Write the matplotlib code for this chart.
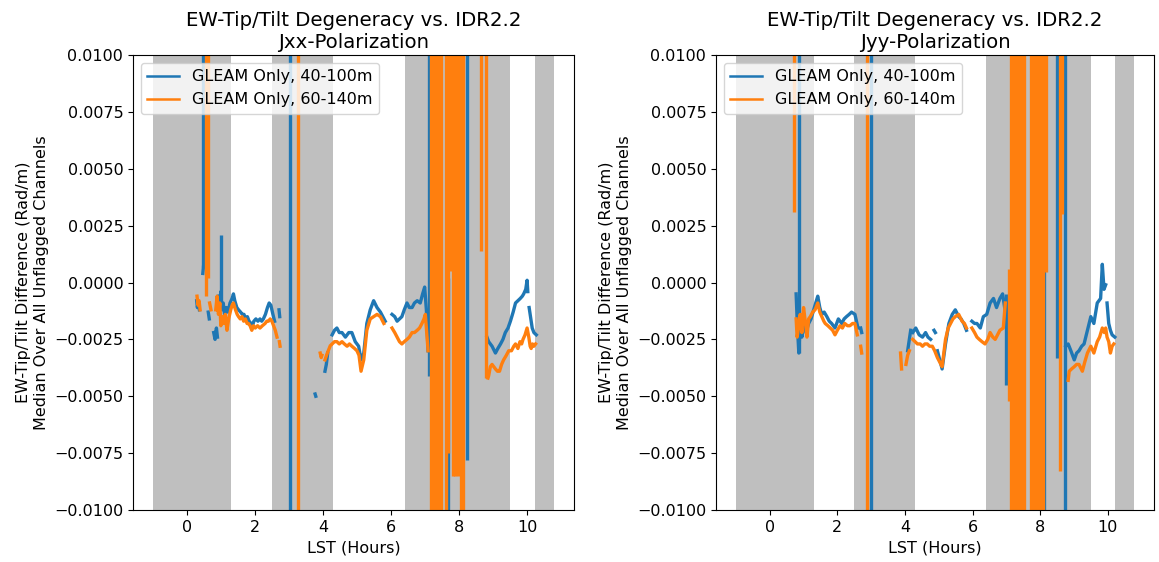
import numpy as np
import matplotlib
matplotlib.use("Agg")
import matplotlib.pyplot as plt

nan = np.nan

# LST windows that were shaded (hours)
shade_start = [-1.0, 2.5, 6.4, 10.22]
shade_stop = [1.3, 4.3, 9.5, 10.78]

labels = ["GLEAM Only, 40-100m", "GLEAM Only, 60-140m"]
pols = ["Jxx", "Jyy"]

# ---------------- Jxx, 40-100m (blue) ----------------
xx_a_lst = [0.28, 0.30, 0.33, 0.36, nan,
            0.46, 0.48, nan,
            0.62, 0.65, nan,
            0.78, 0.82, 0.86, 0.89, nan,
            0.92, 0.95, 0.99, 1.02, 1.06, 1.10, 1.15, 1.20, 1.26, 1.32, 1.36, 1.40,
            1.46, 1.51, 1.57, 1.62, 1.67, 1.72, 1.77, 1.82, 1.88, 1.92, 1.96, 2.02,
            2.08, 2.14, 2.19, 2.24, 2.30, 2.36, 2.41, 2.46, 2.52, 2.57, nan,
            2.70, 2.72, nan,
            3.76, 3.78, nan,
            4.05, 4.09, 4.13, nan,
            4.26, 4.33, 4.40, 4.47, 4.55, 4.65, 4.75, 4.84, 4.94, 5.04, 5.11, 5.19,
            5.28, 5.38, 5.48, 5.58, 5.68, 5.75, 5.82, nan,
            6.02, 6.10, 6.17, 6.24, 6.31, 6.38, 6.46, 6.53, 6.61, 6.68, 6.76, 6.85,
            6.92, 6.98, 7.03, 7.08, nan,
            8.81, 8.86, 8.96, 9.06, 9.13, 9.21, 9.28, 9.35, 9.43, 9.50, 9.58, 9.65,
            9.72, 9.79, 9.85, 9.89, 9.95, 9.99, 10.01, nan,
            10.05, 10.09, 10.14, 10.19, 10.26]
xx_a_val = [-0.0008, -0.0011, -0.0009, -0.0012, nan,
            0.0004, 0.0007, nan,
            -0.0013, -0.0016, nan,
            -0.0022, -0.0025, -0.0020, -0.0024, nan,
            -0.0006, -0.0010, -0.0004, -0.0012, -0.0009, -0.0014, -0.0011, -0.0013,
            -0.0009, -0.0007, -0.0005, -0.0008, -0.0011, -0.0012, -0.0013, -0.0014,
            -0.0014, -0.0016, -0.0015, -0.0017, -0.0018, -0.0019, -0.0017, -0.0016,
            -0.0017, -0.0016, -0.0017, -0.0016, -0.0014, -0.0011, -0.0009, -0.0010,
            -0.0014, -0.0017, nan,
            -0.0012, -0.0015, nan,
            -0.0049, -0.0050, nan,
            -0.0039, -0.0036, -0.0031, nan,
            -0.0023, -0.0021, -0.0020, -0.0022, -0.0022, -0.0024, -0.0022, -0.0022,
            -0.0026, -0.0028, -0.0034, -0.0031, -0.0018, -0.0012, -0.0008, -0.0011,
            -0.0013, -0.0015, -0.0017, nan,
            -0.0014, -0.0015, -0.0017, -0.0016, -0.0015, -0.0012, -0.0009, -0.0011,
            -0.0011, -0.0009, -0.0008, -0.0009, -0.0005, -0.0002, -0.0012, -0.0030, nan,
            -0.0024, -0.0026, -0.0028, -0.0031, -0.0029, -0.0027, -0.0025, -0.0022,
            -0.0020, -0.0017, -0.0013, -0.0009, -0.0008, -0.0007, -0.0006, -0.0005,
            -0.0003, 0.0001, -0.0004, nan,
            -0.0011, -0.0015, -0.0020, -0.0022, -0.0023]
xx_a_spk_x = [0.48, 0.99, 3.01, 7.12, 7.68, 8.21]
xx_a_spk_lo = [0.0007, -0.0010, -0.05, -0.0041, -0.05, -0.0078]
xx_a_spk_hi = [0.05, 0.0021, 0.05, 0.05, 0.0002, 0.05]

# ---------------- Jxx, 60-140m (orange) ----------------
xx_b_lst = [0.29, 0.32, 0.35, 0.38, nan,
            0.66, 0.70, nan,
            0.84, 0.88, 0.92, 0.96, 0.99, 1.03, 1.08, 1.12, 1.17, 1.22, 1.28, 1.32,
            1.36, 1.42, 1.47, 1.51, 1.56, 1.61, 1.66, 1.71, 1.76, 1.80, 1.85, 1.90,
            1.95, 2.00, 2.07, 2.14, 2.21, 2.29, 2.34, 2.39, 2.44, 2.49, 2.54, 2.59,
            2.64, nan,
            2.71, 2.73, nan,
            3.91, 3.94, 3.96, nan,
            4.05, 4.12, 4.20, nan,
            4.26, 4.33, 4.40, 4.47, 4.55, 4.62, 4.70, 4.77, 4.84, 4.92, 4.99, 5.05,
            5.11, 5.19, 5.28, 5.38, 5.48, 5.58, 5.68, 5.78, nan,
            6.02, 6.10, 6.17, 6.24, 6.31, 6.38, 6.46, 6.53, 6.61, 6.68, 6.76, 6.83,
            6.90, 6.96, 7.00, 7.04, 7.08, nan,
            8.84, 8.86, 8.91, 8.96, 9.01, 9.06, 9.12, 9.18, 9.24, 9.30, 9.38, 9.45,
            9.53, 9.60, 9.65, 9.72, 9.78, 9.83, 9.87, 9.93, 9.99, 10.04, 10.08,
            10.11, 10.15, 10.19, 10.24]
xx_b_val = [-0.0006, -0.0010, -0.0008, -0.0012, nan,
            -0.0009, -0.0012, nan,
            -0.0012, -0.0006, -0.0014, -0.0009, -0.0019, -0.0015, -0.0018, -0.0014,
            -0.0021, -0.0016, -0.0012, -0.0010, -0.0009, -0.0012, -0.0014, -0.0015,
            -0.0016, -0.0015, -0.0017, -0.0016, -0.0018, -0.0018, -0.0019, -0.0021,
            -0.0019, -0.0020, -0.0019, -0.0020, -0.0019, -0.0018, -0.0017, -0.0017,
            -0.0016, -0.0017, -0.0019, -0.0021, -0.0024, nan,
            -0.0026, -0.0028, nan,
            -0.0031, -0.0033, -0.0032, nan,
            -0.0034, -0.0031, -0.0028, nan,
            -0.0027, -0.0026, -0.0026, -0.0027, -0.0026, -0.0027, -0.0028, -0.0027,
            -0.0028, -0.0029, -0.0030, -0.0032, -0.0039, -0.0034, -0.0021, -0.0016,
            -0.0015, -0.0014, -0.0015, -0.0018, nan,
            -0.0020, -0.0022, -0.0024, -0.0026, -0.0027, -0.0026, -0.0025, -0.0024,
            -0.0022, -0.0022, -0.0021, -0.0020, -0.0018, -0.0016, -0.0014, -0.0022,
            -0.0030, nan,
            -0.0042, -0.0041, -0.0037, -0.0036, -0.0037, -0.0038, -0.0039, -0.0039,
            -0.0036, -0.0034, -0.0032, -0.0030, -0.0030, -0.0028, -0.0027, -0.0029,
            -0.0026, -0.0027, -0.0025, -0.0023, -0.0020, -0.0024, -0.0028, -0.0029,
            -0.0027, -0.0028, -0.0027]
xx_b_spk_x = [0.56, 0.60, 3.26, 7.17, 7.22, 7.31, 7.40, 7.46, 7.62, 7.68, 7.74,
              7.80, 7.88, 7.95, 8.06, 8.10, 8.64, 8.79]
xx_b_spk_lo = [-0.0006, 0.0002, -0.05, -0.05, -0.05, -0.05, -0.05, -0.05, -0.05,
               -0.0075, 0.0005, -0.0085, -0.0085, -0.0085, -0.05, -0.05, 0.0014, -0.0042]
xx_b_spk_hi = [0.05] * 18

# ---------------- Jyy, 40-100m (blue) ----------------
yy_a_lst = [0.78, 0.82, 0.86, 0.90, 0.95, 1.00, 1.07, 1.15, 1.22, 1.30, 1.36, 1.42,
            1.48, 1.54, 1.61, 1.69, 1.76, 1.83, 1.93, 2.03, 2.13, 2.20, 2.27, 2.35,
            2.42, 2.52, 2.61, nan,
            2.69, 2.72, nan,
            4.08, 4.13, 4.17, nan,
            4.23, 4.32, 4.42, 4.52, 4.61, 4.68, 4.76, nan,
            4.86, 4.90, nan,
            4.96, 5.03, 5.10, 5.20, 5.30, 5.40, 5.49, 5.59, 5.66, 5.74, 5.82, nan,
            5.98, 6.06, 6.13, 6.23, 6.32, 6.42, 6.52, 6.62, 6.71, 6.81, 6.89, 6.96,
            nan,
            8.76, 8.83, 8.91, 9.01, 9.08, 9.15, 9.23, 9.30, 9.40, 9.50, 9.59, 9.69,
            9.79, 9.84, 9.89, 9.94, nan,
            9.98, 10.03, 10.08, 10.13, 10.21]
yy_a_val = [-0.0005, -0.0020, -0.0031, -0.0018, -0.0024, -0.0015, -0.0022, -0.0018,
            -0.0016, -0.0012, -0.0009, -0.0006, -0.0011, -0.0014, -0.0013, -0.0015,
            -0.0017, -0.0018, -0.0020, -0.0016, -0.0018, -0.0016, -0.0015, -0.0014,
            -0.0013, -0.0014, -0.0020, nan,
            -0.0020, -0.0022, nan,
            -0.0030, -0.0025, -0.0021, nan,
            -0.0022, -0.0020, -0.0023, -0.0024, -0.0022, -0.0024, -0.0025, nan,
            -0.0021, -0.0022, nan,
            -0.0030, -0.0034, -0.0038, -0.0027, -0.0018, -0.0014, -0.0012, -0.0015,
            -0.0016, -0.0018, -0.0021, nan,
            -0.0017, -0.0018, -0.0018, -0.0020, -0.0015, -0.0014, -0.0009, -0.0007,
            -0.0011, -0.0007, -0.0005, -0.0012, nan,
            -0.0028, -0.0027, -0.0030, -0.0034, -0.0031, -0.0030, -0.0028, -0.0027,
            -0.0021, -0.0015, -0.0018, -0.0009, -0.0007, 0.0008, -0.0003, -0.0001, nan,
            -0.0009, -0.0018, -0.0021, -0.0023, -0.0024]
yy_a_spk_x = [0.86, 3.00, 6.99, 8.12, 8.49, 8.74]
yy_a_spk_lo = [-0.0031, -0.05, -0.0045, -0.05, -0.0033, -0.05]
yy_a_spk_hi = [0.05, 0.05, -0.0005, 0.0033, 0.05, 0.05]

# ---------------- Jyy, 60-140m (orange) ----------------
yy_b_lst = [0.78, 0.81, 0.86, 0.90, 0.95, 1.00, 1.05, 1.10, 1.15, 1.20, 1.27, 1.34,
            1.42, 1.48, 1.54, 1.60, 1.64, 1.72, 1.79, 1.86, 1.93, 2.00, 2.08, 2.15,
            2.22, 2.30, 2.37, 2.45, 2.52, 2.59, nan,
            2.69, 2.72, nan,
            3.87, 3.90, nan,
            4.03, 4.08, 4.13, nan,
            4.23, 4.30, 4.37, 4.45, 4.52, 4.59, 4.66, 4.73, 4.81, 4.88, 4.96, 5.03,
            5.10, 5.20, 5.28, 5.35, 5.42, 5.49, 5.59, 5.69, 5.76, 5.82, nan,
            5.98, 6.06, 6.13, 6.20, 6.28, 6.37, 6.45, 6.52, 6.60, 6.67, 6.74, 6.81,
            6.91, 6.97, nan,
            8.83, 8.86, 8.93, 9.01, 9.08, 9.15, 9.25, 9.32, 9.40, 9.50, 9.59, 9.69,
            9.76, 9.84, 9.90, 9.94, 9.98, 10.03, 10.08, 10.13, 10.18]
yy_b_val = [-0.0016, -0.0024, -0.0019, -0.0014, -0.0022, -0.0011, -0.0017, -0.0024,
            -0.0016, -0.0015, -0.0013, -0.0012, -0.0009, -0.0013, -0.0015, -0.0017,
            -0.0018, -0.0019, -0.0020, -0.0021, -0.0023, -0.0021, -0.0019, -0.0020,
            -0.0018, -0.0019, -0.0019, -0.0018, -0.0018, -0.0023, nan,
            -0.0028, -0.0031, nan,
            -0.0031, -0.0038, nan,
            -0.0036, -0.0032, -0.0030, nan,
            -0.0025, -0.0026, -0.0027, -0.0027, -0.0028, -0.0027, -0.0027, -0.0028,
            -0.0028, -0.0030, -0.0033, -0.0035, -0.0037, -0.0025, -0.0020, -0.0018,
            -0.0016, -0.0015, -0.0014, -0.0017, -0.0018, -0.0020, nan,
            -0.0020, -0.0022, -0.0024, -0.0025, -0.0026, -0.0027, -0.0025, -0.0022,
            -0.0024, -0.0025, -0.0023, -0.0021, -0.0020, -0.0009, nan,
            -0.0043, -0.0039, -0.0038, -0.0037, -0.0036, -0.0036, -0.0039, -0.0035,
            -0.0031, -0.0028, -0.0031, -0.0026, -0.0024, -0.0020, -0.0022, -0.0020,
            -0.0024, -0.0026, -0.0031, -0.0028, -0.0027]
yy_b_spk_x = [0.71, 2.88, 7.07, 7.14, 7.22, 7.30, 7.38, 7.46, 7.52, 7.72, 7.80,
              7.88, 7.96, 8.04, 8.08, 8.16, 8.58, 8.65]
yy_b_spk_lo = [0.0031, -0.05, -0.0052, -0.05, -0.05, -0.05, -0.05, -0.05, -0.05,
               -0.05, -0.05, -0.05, -0.05, -0.05, -0.05, 0.00045, -0.0083, 0.0030]
yy_b_spk_hi = [0.05, 0.05, 0.0006] + [0.05] * 15

series = {
    "Jxx": [(xx_a_lst, xx_a_val, xx_a_spk_x, xx_a_spk_lo, xx_a_spk_hi),
            (xx_b_lst, xx_b_val, xx_b_spk_x, xx_b_spk_lo, xx_b_spk_hi)],
    "Jyy": [(yy_a_lst, yy_a_val, yy_a_spk_x, yy_a_spk_lo, yy_a_spk_hi),
            (yy_b_lst, yy_b_val, yy_b_spk_x, yy_b_spk_lo, yy_b_spk_hi)],
}
colors = ["#1f77b4", "#ff7f0e"]

plt.rcParams["font.size"] = 11.5
fig = plt.figure(figsize=(11.59, 5.62), dpi=100)
positions = [[0.1148, 0.0925, 0.3805, 0.8096], [0.6178, 0.0925, 0.3779, 0.8096]]

for pos, pol in zip(positions, pols):
    ax = fig.add_axes(pos)
    for s0, s1 in zip(shade_start, shade_stop):
        ax.axvspan(s0, s1, color="gray", alpha=0.5, lw=0)
    for (lst, val, sx, slo, shi), c, lab in zip(series[pol], colors, labels):
        ax.plot(lst, val, color=c, lw=2.4, label=lab)
        ax.vlines(sx, slo, shi, color=c, lw=2.4)
    ax.set_xlim(-1.59, 11.37)
    ax.set_ylim(-0.01, 0.01)
    ax.set_title(f"EW-Tip/Tilt Degeneracy vs. IDR2.2\n{pol}-Polarization",
                 fontsize=14.2, pad=5)
    ax.set_xlabel("LST (Hours)")
    ax.set_ylabel("EW-Tip/Tilt Difference (Rad/m)\nMedian Over All Unflagged Channels")
    leg = ax.legend(loc="upper left")
    for h in leg.get_lines():
        h.set_linewidth(1.8)

fig.savefig("out.png", dpi=100)
